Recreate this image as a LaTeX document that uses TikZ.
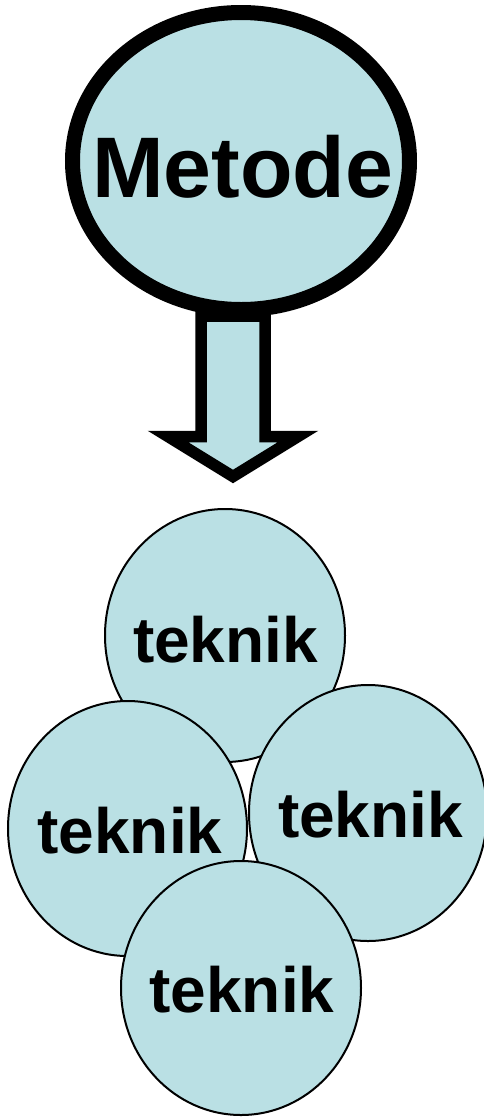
\documentclass[tikz,border=0pt]{standalone}
\usepackage{fontspec}
\setmainfont{Liberation Sans}
\usetikzlibrary{shapes.geometric}
\definecolor{bubblefill}{RGB}{186,224,228}
\tikzset{
  bubble/.style={ellipse, draw=black, fill=bubblefill, line width=2pt, inner sep=0pt, outer sep=0pt},
  bigbubble/.style={ellipse, draw=black, fill=bubblefill, line width=15pt, inner sep=0pt, outer sep=0pt},
  arrowshape/.style={draw=black, fill=bubblefill, line width=11.5pt, line join=miter},
  biglbl/.style={inner sep=0pt, anchor=base, font=\bfseries\fontsize{86}{90}\selectfont},
  lbl/.style={inner sep=0pt, anchor=base, font=\bfseries\fontsize{64}{70}\selectfont}
}
\begin{document}
\begin{tikzpicture}[x=1pt, y=-1pt]
\useasboundingbox (0,0) rectangle (483,1117);
% block arrow (drawn first, top hidden under the ellipse)
\coordinate (a1) at (201,316);
\coordinate (a2) at (201,436.5);
\coordinate (a3) at (168,436.5);
\coordinate (a4) at (233,476.5);
\coordinate (a5) at (298,436.5);
\coordinate (a6) at (265,436.5);
\coordinate (a7) at (265,316);
\draw[arrowshape] (a1) -- (a2) -- (a3) -- (a4) -- (a5) -- (a6) -- (a7) -- cycle;
% Metode ellipse
\node[bigbubble, minimum width=337pt, minimum height=297pt] (metode) at (241,161) {};
\node[biglbl] (metodetxt) at (242.5,197) {Metode};
% teknik circles
\node[bubble, minimum width=240pt, minimum height=253pt] (c1) at (225,635.5) {};
\node[bubble, minimum width=239pt, minimum height=255pt] (c2) at (127.5,828.5) {};
\node[bubble, minimum width=238pt, minimum height=256pt] (c3) at (368,813) {};
\node[bubble, minimum width=240pt, minimum height=254pt] (c4) at (241,988) {};
\node[lbl] (t1) at (225.5,662) {teknik};
\node[lbl] (t2) at (130,853) {teknik};
\node[lbl] (t3) at (370.5,837) {teknik};
\node[lbl] (t4) at (242,1012) {teknik};
\end{tikzpicture}
\end{document}
